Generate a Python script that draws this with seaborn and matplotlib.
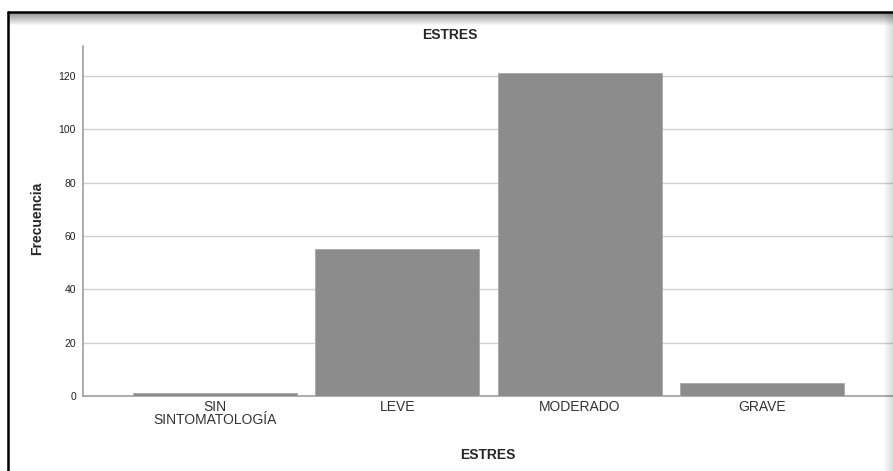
import numpy as np
import pandas as pd
import matplotlib
matplotlib.use("Agg")
import matplotlib.pyplot as plt
import seaborn as sns

categories = ["SIN\nSINTOMATOLOGÍA", "LEVE", "MODERADO", "GRAVE"]
frecuencias = [1, 55, 121, 5]
yticks = [0, 20, 40, 60, 80, 100, 120]

sns.set_theme(style="white")
plt.rcParams['font.family'] = ['Liberation Sans', 'DejaVu Sans']

W, H = 893, 471
fig = plt.figure(figsize=(W / 100, H / 100), dpi=100)
fig.patch.set_facecolor("white")

ax = fig.add_axes([83 / W, 1 - 396 / H, (893 - 83) / W, (396 - 46) / H])
df = pd.DataFrame({"cat": categories, "freq": frecuencias})
sns.barplot(data=df, x="cat", y="freq", color="#8c8c8c", saturation=1, width=0.9,
            edgecolor="#a8a8a8", linewidth=0.6, ax=ax, zorder=3)
ax.set_xlim(-0.725, 3.72)
ax.set_ylim(0, 131.2)
ax.set_yticks(yticks)
ax.yaxis.grid(True, color="#d0d0d0", lw=1.0, zorder=0)
ax.set_axisbelow(True)
for s in ["top", "right"]:
    ax.spines[s].set_visible(False)
ax.spines["left"].set_color("#a0a0a0")
ax.spines["bottom"].set_color("#a0a0a0")
ax.spines["left"].set_linewidth(1.2)
ax.spines["bottom"].set_linewidth(1.2)
ax.tick_params(axis="y", length=0, pad=5, labelsize=7.5, colors="#222222")
ax.tick_params(axis="x", length=0, pad=3, labelsize=10, colors="#333333")
for t in ax.get_xticklabels():
    t.set_linespacing(0.85)
ax.set_xlabel("")
ax.set_ylabel("")
ax.set_facecolor("white")

# frame with shadow overlays
frame_l, frame_t = 8 / W, 1 - 12 / H
top = np.zeros((40, 1, 4))
top[:, 0, 3] = np.linspace(0.45, 0.0, 40)
gax = fig.add_axes([frame_l, 1 - 26 / H, 1 - frame_l, 14 / H], zorder=5)
gax.imshow(top, aspect="auto", extent=[0, 1, 0, 1], origin="upper")
gax.axis("off")
right = np.zeros((1, 30, 4))
right[0, :, 3] = np.linspace(0.0, 0.14, 30)
rax = fig.add_axes([1 - 10 / W, 0, 10 / W, 1 - 12 / H], zorder=5)
rax.imshow(right, aspect="auto", extent=[0, 1, 0, 1])
rax.axis("off")
fig.add_artist(plt.Line2D([frame_l, frame_l], [0, frame_t], transform=fig.transFigure, color="black", lw=1.8, zorder=10))
fig.add_artist(plt.Line2D([frame_l, 1], [frame_t, frame_t], transform=fig.transFigure, color="black", lw=1.8, zorder=10))

fig.text(450 / W, 1 - 35 / H, "ESTRES", ha="center", va="center", fontsize=10, fontweight="bold")
fig.text(488 / W, 1 - 455 / H, "ESTRES", ha="center", va="center", fontsize=10, fontweight="bold")
fig.text(37 / W, 1 - 218 / H, "Frecuencia", ha="center", va="center", rotation=90, fontsize=10, fontweight="bold")

fig.savefig("out.png", dpi=100, facecolor="white")
